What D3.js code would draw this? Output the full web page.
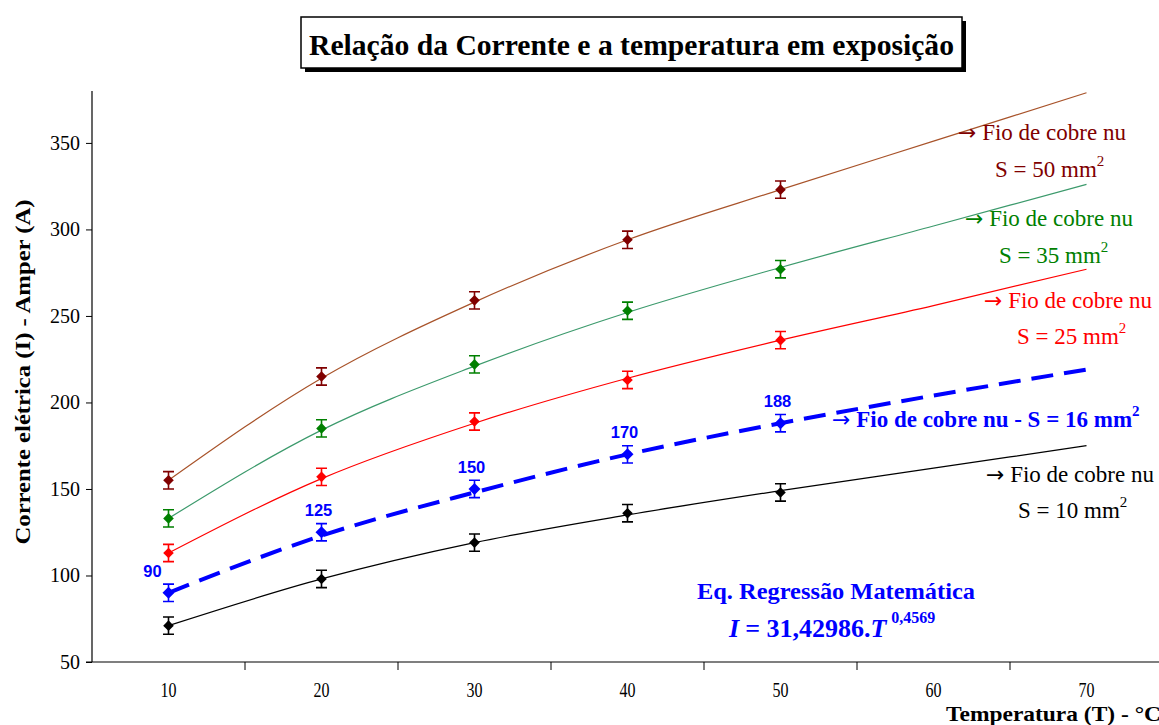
<!DOCTYPE html>
<html>
<head>
<meta charset="utf-8">
<script src="https://cdn.jsdelivr.net/npm/d3@7/dist/d3.min.js"></script>
<style>
  html, body { margin: 0; padding: 0; background: #ffffff; }
  svg { display: block; }
</style>
</head>
<body>
<svg id="chart" width="1159" height="725"></svg>
<script>
// Temperature categories (°C) on the horizontal axis
const temperatures = [10, 20, 30, 40, 50, 60, 70];
// Temperatures where currents were measured
const measuredTemps = [10, 20, 30, 40, 50];

// Measured current (A) for each bare copper wire section
const current50 = [155, 215, 259, 294, 323];
const current35 = [133, 185, 222, 253, 277];
const current25 = [113, 157, 189, 213, 236];
const current16 = [90, 125, 150, 170, 188];
const current10 = [71, 98, 119, 136, 148];

// Regression curves (A) across the whole temperature range
const trend50 = [155, 214, 258, 294, 323, 351, 379];
const trend35 = [133, 184, 221, 252, 278, 302, 326];
const trend25 = [113, 156, 188, 214, 236, 256, 277];
const trend16 = [90, 123, 148, 170, 188, 204, 219];
const trend10 = [71, 98, 119, 135, 149, 162, 175];

// Error bar half-height (A)
const errorMargin = 5;

// Axis ticks
const yTicks = [50, 100, 150, 200, 250, 300, 350];
const xTickLabels = ["10", "20", "30", "40", "50", "60", "70"];

const series = [
  { values: current50, trend: trend50, mark: "#800000", line: "#a8532a", width: 1.2, dash: null },
  { values: current35, trend: trend35, mark: "#008000", line: "#3c9a6c", width: 1.2, dash: null },
  { values: current25, trend: trend25, mark: "#ff0000", line: "#ff0000", width: 1.2, dash: null },
  { values: current16, trend: trend16, mark: "#0000ff", line: "#0000ff", width: 4, dash: "22,11", big: true },
  { values: current10, trend: trend10, mark: "#000000", line: "#000000", width: 1.2, dash: null }
];

const SERIF = "Liberation Serif, Times New Roman, serif";
const SANS = "Liberation Sans, Arial, sans-serif";
const ARROW = "DejaVu Sans, sans-serif";

const svg = d3.select("#chart").attr("font-family", SERIF);

const plot = { left: 92, right: 1163, top: 91, bottom: 662 };

const x = d3.scaleBand().domain(temperatures).range([plot.left, plot.right]);
const xc = t => x(t) + x.bandwidth() / 2;
const y = d3.scaleLinear().domain([50, 380]).range([plot.bottom, plot.top]);

// ---- Title box with drop shadow
const titleBox = { x: 301, y: 17, w: 661, h: 51 };
svg.append("rect")
  .attr("x", titleBox.x + 4).attr("y", titleBox.y + 4)
  .attr("width", titleBox.w).attr("height", titleBox.h)
  .attr("fill", "#000");
svg.append("rect")
  .attr("x", titleBox.x).attr("y", titleBox.y)
  .attr("width", titleBox.w).attr("height", titleBox.h)
  .attr("fill", "#fff").attr("stroke", "#000").attr("stroke-width", 1.5);
svg.append("text")
  .attr("x", titleBox.x + titleBox.w / 2).attr("y", 55)
  .attr("text-anchor", "middle")
  .attr("font-size", 30).attr("font-weight", "bold")
  .attr("textLength", 645).attr("lengthAdjust", "spacingAndGlyphs")
  .text("Relação da Corrente e a temperatura em exposição");

// ---- Y axis
const yAxis = d3.axisLeft(y).tickValues(yTicks).tickSize(6).tickPadding(6);
const gy = svg.append("g").attr("transform", `translate(${plot.left},0)`).call(yAxis);
gy.attr("font-family", SERIF).attr("font-size", 20);
gy.select(".domain").attr("d", `M0,${plot.top}V${plot.bottom}`).attr("stroke", "#000").attr("stroke-width", 1.2);
gy.selectAll(".tick line").attr("stroke", "#000");
gy.selectAll(".tick text").attr("fill", "#000").attr("x", -12);

// ---- X axis: labels at category centres, tick marks between categories
const gx = svg.append("g").attr("transform", `translate(0,${plot.bottom})`);
gx.append("line")
  .attr("x1", plot.left - 6).attr("x2", 1159)
  .attr("stroke", "#000").attr("stroke-width", 1.2);
gx.selectAll("line.sep")
  .data(temperatures.slice(1))
  .join("line")
  .attr("class", "sep")
  .attr("x1", d => x(d)).attr("x2", d => x(d))
  .attr("y1", 0).attr("y2", 8)
  .attr("stroke", "#000");
gx.selectAll("text.tl")
  .data(temperatures)
  .join("text")
  .attr("class", "tl")
  .attr("x", d => xc(d)).attr("y", 35)
  .attr("text-anchor", "middle")
  .attr("font-size", 20)
  .attr("textLength", 16).attr("lengthAdjust", "spacingAndGlyphs")
  .text((d, i) => xTickLabels[i]);

// ---- Axis titles
svg.append("text")
  .attr("transform", "translate(30,372) rotate(-90)")
  .attr("text-anchor", "middle")
  .attr("font-size", 22).attr("font-weight", "bold")
  .attr("textLength", 345).attr("lengthAdjust", "spacingAndGlyphs")
  .text("Corrente elétrica (I) - Amper (A)");

svg.append("text")
  .attr("x", 1161).attr("y", 721)
  .attr("text-anchor", "end")
  .attr("font-size", 22).attr("font-weight", "bold")
  .attr("textLength", 215).attr("lengthAdjust", "spacingAndGlyphs")
  .text("Temperatura (T) - °C");

// ---- Regression curves
const line = d3.line()
  .x((d, i) => xc(temperatures[i]))
  .y(d => y(d))
  .curve(d3.curveMonotoneX);

svg.append("g").selectAll("path")
  .data(series)
  .join("path")
  .attr("d", s => line(s.trend))
  .attr("fill", "none")
  .attr("stroke", s => s.line)
  .attr("stroke-width", s => s.width)
  .attr("stroke-dasharray", s => s.dash);

// ---- Error bars and markers
const capHalf = 5.5;
series.forEach(s => {
  const g = svg.append("g").attr("stroke", s.mark).attr("fill", s.mark);
  const pts = s.values.map((v, i) => ({ t: measuredTemps[i], v }));
  g.selectAll("path.err")
    .data(pts)
    .join("path")
    .attr("class", "err")
    .attr("fill", "none")
    .attr("stroke-width", 1.6)
    .attr("d", d => {
      const cx = xc(d.t), y0 = y(d.v - errorMargin), y1 = y(d.v + errorMargin);
      return `M${cx},${y0}V${y1}M${cx - capHalf},${y0}H${cx + capHalf}M${cx - capHalf},${y1}H${cx + capHalf}`;
    });
  g.selectAll("path.mk")
    .data(pts)
    .join("path")
    .attr("class", "mk")
    .attr("stroke", "none")
    .attr("d", d3.symbol(d3.symbolSquare, s.big ? 72 : 56)())
    .attr("transform", d => `translate(${xc(d.t)},${y(d.v)}) rotate(45)`);
});

// ---- Value labels on the 16 mm² series
svg.append("g").selectAll("text")
  .data(current16.map((v, i) => ({ t: measuredTemps[i], v, i })))
  .join("text")
  .attr("x", d => xc(d.t) - (d.i === 0 ? 16 : 3))
  .attr("y", d => y(d.v) - 16)
  .attr("text-anchor", "middle")
  .attr("font-family", SANS)
  .attr("font-weight", "bold").attr("font-size", 16.5)
  .attr("fill", "#0000ff")
  .text(d => d.v);

// ---- Series annotations
const annotations = [
  { color: "#800000", lines: [{ x: 958, y: 140, t: "Fio de cobre nu", arrow: true }, { x: 995, y: 177, t: "S = 50 mm", sup: "2" }] },
  { color: "#008000", lines: [{ x: 965, y: 226, t: "Fio de cobre nu", arrow: true }, { x: 999, y: 263, t: "S = 35 mm", sup: "2" }] },
  { color: "#ff0000", lines: [{ x: 984, y: 308, t: "Fio de cobre nu", arrow: true }, { x: 1017, y: 344, t: "S = 25 mm", sup: "2" }] },
  { color: "#0000ff", bold: true, lines: [{ x: 832, y: 427, t: "Fio de cobre nu - S = 16 mm", sup: "2", arrow: true }] },
  { color: "#000000", lines: [{ x: 986, y: 482, t: "Fio de cobre nu", arrow: true }, { x: 1018, y: 518, t: "S = 10 mm", sup: "2" }] }
];
annotations.forEach(a => {
  a.lines.forEach(l => {
    const t = svg.append("text")
      .attr("x", l.x).attr("y", l.y)
      .attr("font-size", 23)
      .attr("font-weight", a.bold ? "bold" : "normal")
      .attr("fill", a.color);
    if (l.arrow) {
      t.append("tspan").attr("font-family", ARROW).attr("font-weight", "normal")
        .attr("font-size", 22).text("→");
      t.append("tspan").text(" " + l.t);
    } else {
      t.append("tspan").text(l.t);
    }
    if (l.sup) t.append("tspan").attr("dy", -11).attr("font-size", 15).text(l.sup);
  });
});

// ---- Regression equation
svg.append("text")
  .attr("x", 836).attr("y", 599)
  .attr("text-anchor", "middle")
  .attr("font-size", 24).attr("font-weight", "bold")
  .attr("fill", "#0000ff")
  .attr("textLength", 278).attr("lengthAdjust", "spacingAndGlyphs")
  .text("Eq. Regressão Matemática");

const eq = svg.append("text")
  .attr("x", 729).attr("y", 637)
  .attr("font-size", 26).attr("font-weight", "bold")
  .attr("fill", "#0000ff");
eq.append("tspan").attr("font-style", "italic").text("I");
eq.append("tspan").attr("dx", 6).text("= 31,42986.");
eq.append("tspan").attr("font-style", "italic").text("T");
eq.append("tspan").attr("dx", 5).attr("dy", -14).attr("font-size", 16).text("0,4569");
</script>
</body>
</html>
